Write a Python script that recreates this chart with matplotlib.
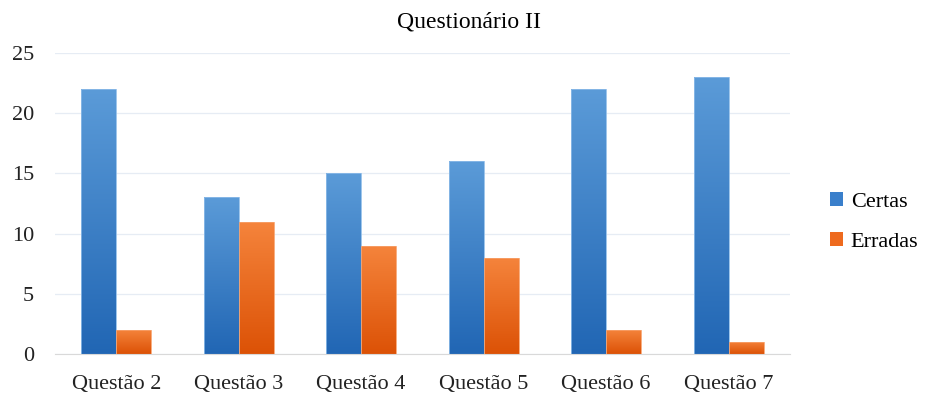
import numpy as np
import matplotlib
matplotlib.use('Agg')
import matplotlib.pyplot as plt
from matplotlib.colors import LinearSegmentedColormap
from matplotlib.patches import Patch

plt.rcParams['font.family'] = ['Liberation Serif', 'DejaVu Serif']

questoes = ['Questão 2', 'Questão 3', 'Questão 4', 'Questão 5', 'Questão 6', 'Questão 7']
certas = [22, 13, 15, 16, 22, 23]
erradas = [2, 11, 9, 8, 2, 1]

blue_map = LinearSegmentedColormap.from_list('azul', ['#2166b4', '#5b9bd8'])
orange_map = LinearSegmentedColormap.from_list('laranja', ['#dc5206', '#f5843c'])
grad = np.linspace(0, 1, 256).reshape(-1, 1)

fig = plt.figure(figsize=(9.29, 3.93), dpi=100)
ax = fig.add_axes([0.0592, 0.0992, 0.791, 0.766])

x = np.arange(len(questoes))
w = 0.285


def gradient_bars(xs, vals, cmap, edge):
    bars = ax.bar(xs, vals, w, color='none', edgecolor=edge, linewidth=0.6, zorder=3)
    for b in bars:
        x0, y0 = b.get_x(), b.get_y()
        im = ax.imshow(grad, cmap=cmap, origin='lower', aspect='auto',
                       extent=[x0, x0 + b.get_width(), y0, y0 + b.get_height()],
                       zorder=2)
        im.set_clip_path(b)
    return bars


gradient_bars(x - w / 2, certas, blue_map, '#8dbbe8')
gradient_bars(x + w / 2, erradas, orange_map, '#f7a06a')

ax.set_xlim(-0.5, len(questoes) - 0.5)
ax.set_ylim(0, 25)
ax.set_yticks(range(0, 26, 5))
ax.set_xticks(x)
ax.set_xticklabels(questoes)
ax.tick_params(axis='both', length=0, labelsize=16, colors='#222222')
ax.tick_params(axis='y', pad=15)
ax.tick_params(axis='x', pad=15)
ax.grid(axis='y', color='#e6ecf4', linewidth=0.9, zorder=0)
ax.set_axisbelow(True)
for s in ['top', 'right', 'left']:
    ax.spines[s].set_visible(False)
ax.spines['bottom'].set_color('#d9d9d9')

fig.text(0.505, 0.945, 'Questionário II', ha='center', va='center', fontsize=17)

handles = [Patch(facecolor='#3a7fcb', label='Certas'),
           Patch(facecolor='#ee6a1e', label='Erradas')]
fig.legend(handles=handles, loc='center left', bbox_to_anchor=(0.893, 0.435),
           frameon=False, fontsize=16, handlelength=0.6, handleheight=0.6,
           labelspacing=0.9, handletextpad=0.35, borderpad=0, borderaxespad=0)

fig.savefig('out.png', dpi=100)
